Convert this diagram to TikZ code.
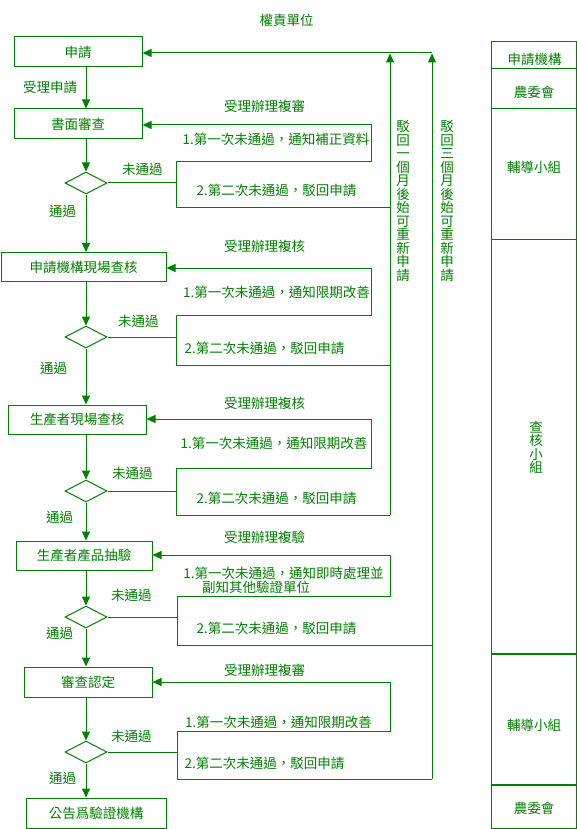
\documentclass[tikz,border=0pt]{standalone}
\usepackage{fontspec}
\newfontfamily\cjk{Noto Sans CJK TC}
\usetikzlibrary{shapes.geometric,arrows.meta}
\definecolor{fg}{RGB}{0,128,0}
\begin{document}
\begin{tikzpicture}[x=1pt,y=-1pt,
  every node/.style={font=\cjk\fontsize{13.5pt}{13.5pt}\selectfont, text=fg, inner sep=0pt},
  ln/.style={draw=fg, line width=1pt},
  arr/.style={ln, -{Triangle[width=8pt,length=9pt]}},
  box/.style={draw=fg, line width=1pt, minimum height=30pt},
  dia/.style={draw=fg, line width=1pt, diamond, minimum width=42pt, minimum height=22pt},
  lbl/.style={anchor=west},
  vtxt/.style={align=center}
]
\useasboundingbox (0,0) rectangle (577,829);

% title
\node (title) at (286.5,20) {權責單位};

% main boxes
\node[box, minimum width=128pt] (b1) at (78,52) {申請};
\node[box, minimum width=128pt] (b2) at (78,124) {書面審查};
\node[box, minimum width=165pt, minimum height=29pt] (b3) at (83.5,267) {申請機構現場查核};
\node[box, minimum width=138pt, minimum height=29pt] (b4) at (77,419.5) {生產者現場查核};
\node[box, minimum width=136pt, minimum height=29pt] (b5) at (84,555.5) {生產者產品抽驗};
\node[box, minimum width=128pt] (b6) at (88,682) {審查認定};
\node[box, minimum width=140pt] (b7) at (96,813) {公告爲驗證機構};

% decisions
\node[dia] (d1) at (86,183) {};
\node[dia] (d2) at (86,337) {};
\node[dia] (d3) at (86,491) {};
\node[dia] (d4) at (86,617) {};
\node[dia] (d5) at (86,752) {};

% main flow
\draw[arr] (b1.south -| d1) -- (b2.north -| d1);
\draw[arr] (b2.south -| d1) -- (d1.north);
\draw[arr] (d1.south) -- (b3.north -| d1);
\draw[arr] (b3.south -| d1) -- (d2.north);
\draw[arr] (d2.south) -- (b4.north -| d1);
\draw[arr] (b4.south -| d1) -- (d3.north);
\draw[arr] (d3.south) -- (b5.north -| d1);
\draw[arr] (b5.south -| d1) -- (d4.north);
\draw[arr] (d4.south) -- (b6.north -| d1);
\draw[arr] (b6.south -| d1) -- (d5.north);
\draw[arr] (d5.south) -- (b7.north -| d1);

% return lines
\coordinate (v1) at (390,53.5);
\coordinate (v2) at (432,53.5);
\coordinate (top) at (432,53);
\draw[arr] (top) -- (top -| b1.east);

% block 1
\coordinate (k1a) at (176,162); \coordinate (k1b) at (176,207);
\coordinate (k1c) at (371,162); \coordinate (k1d) at (371,125);
\draw[ln] (d1.east) -- (d1.east -| k1a);
\draw[ln] (k1a) -- (k1b) -- (k1b -| v1);
\draw[arr] (k1a) -- (k1c) -- (k1d) -- (k1d -| b2.east);

% block 2
\coordinate (k2a) at (176,315); \coordinate (k2b) at (176,365);
\coordinate (k2c) at (371,315); \coordinate (k2d) at (371,268);
\draw[ln] (d2.east) -- (d2.east -| k2a);
\draw[ln] (k2a) -- (k2b) -- (k2b -| v1);
\draw[arr] (k2a) -- (k2c) -- (k2d) -- (k2d -| b3.east);

% block 3
\coordinate (k3a) at (176,468); \coordinate (k3b) at (176,515);
\coordinate (k3c) at (371,468); \coordinate (k3d) at (371,419);
\draw[ln] (d3.east) -- (d3.east -| k3a);
\draw[ln] (k3a) -- (k3b) -- (k3b -| v1);
\draw[arr] (k3a) -- (k3c) -- (k3d) -- (k3d -| b4.east);

% block 4
\coordinate (k4a) at (177,596); \coordinate (k4b) at (177,645);
\coordinate (k4c) at (390,596); \coordinate (k4d) at (390,555);
\draw[ln] (d4.east) -- (d4.east -| k4a);
\draw[ln] (k4a) -- (k4b) -- (k4b -| v2);
\draw[arr] (k4a) -- (k4c) -- (k4d) -- (k4d -| b5.east);

% block 5
\coordinate (k5a) at (177,731); \coordinate (k5b) at (177,779);
\coordinate (k5c) at (390,731); \coordinate (k5d) at (390,682);
\draw[ln] (d5.east) -- (d5.east -| k5a);
\draw[ln] (k5a) -- (k5b) -- (k5b -| v2);
\draw[arr] (k5a) -- (k5c) -- (k5d) -- (k5d -| b6.east);

% vertical return arrows
\draw[arr] (k3b -| v1) -- (v1);
\draw[arr] (k5b -| v2) -- (v2);
\node[vtxt] (t1) at (403,201) {駁\\回\\一\\個\\月\\後\\始\\可\\重\\新\\申\\請};
\node[vtxt] (t2) at (447,201) {駁\\回\\三\\個\\月\\後\\始\\可\\重\\新\\申\\請};

% labels
\node[lbl] (l0) at (23,87) {受理申請};

\node[lbl] (l1a) at (224,106) {受理辦理複審};
\node (l1b) at (276,139) {1.第一次未通過，通知補正資料};
\node[lbl] (l1c) at (122,169) {未通過};
\node (l1d) at (276.5,190) {2.第二次未通過，駁回申請};
\node[lbl] (l1e) at (49,211) {通過};

\node[lbl] (l2a) at (224,246) {受理辦理複核};
\node (l2b) at (276.5,292) {1.第一次未通過，通知限期改善};
\node[lbl] (l2c) at (118,321) {未通過};
\node (l2d) at (264.5,348) {2.第二次未通過，駁回申請};
\node[lbl] (l2e) at (40,368) {通過};

\node[lbl] (l3a) at (224,403) {受理辦理複核};
\node (l3b) at (274,443) {1.第一次未通過，通知限期改善};
\node[lbl] (l3c) at (112,473) {未通過};
\node (l3d) at (276.5,498) {2.第二次未通過，駁回申請};
\node[lbl] (l3e) at (46,517) {通過};

\node[lbl] (l4a) at (224,537) {受理辦理複驗};
\node (l4b) at (283.5,573) {1.第一次未通過，通知即時處理並};
\node[lbl] (l4b2) at (202,587) {副知其他驗證單位};
\node[lbl] (l4c) at (111,595) {未通過};
\node (l4d) at (276.5,628) {2.第二次未通過，駁回申請};
\node[lbl] (l4e) at (46,633) {通過};

\node[lbl] (l5a) at (224,670) {受理辦理複審};
\node (l5b) at (278.5,722) {1.第一次未通過，通知限期改善};
\node[lbl] (l5c) at (111,736) {未通過};
\node (l5d) at (264.5,763) {2.第二次未通過，駁回申請};
\node[lbl] (l5e) at (49,778) {通過};

% right column
\draw[ln] (491.5,42) rectangle (576.5,828);
\draw[ln] (491.5,69) -- (576.5,69);
\draw[ln] (491.5,109) -- (576.5,109);
\draw[ln] (491.5,239) -- (576.5,239);
\draw[ln, line width=1.6pt] (491.5,654) -- (576.5,654);
\draw[ln, line width=1.6pt] (491.5,785) -- (576.5,785);
\node (r1) at (534.5,59) {申請機構};
\node (r2) at (534,92) {農委會};
\node (r3) at (534,167) {輔導小組};
\node[vtxt] (r4) at (536,447) {查\\核\\小\\組};
\node (r5) at (534,725) {輔導小組};
\node (r6) at (534,808) {農委會};
\end{tikzpicture}
\end{document}
